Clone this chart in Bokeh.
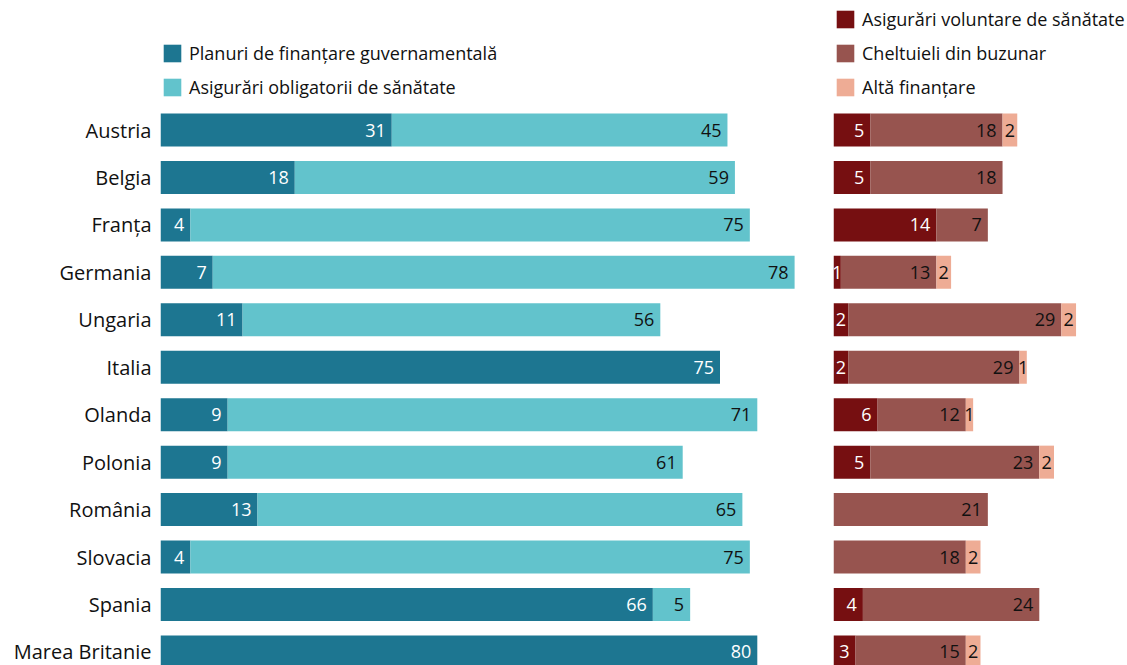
from bokeh.plotting import figure
from bokeh.layouts import row
from bokeh.models import ColumnDataSource, Range1d, FixedTicker, Legend, LegendItem
from bokeh.core.properties import value
from bokeh.embed import file_html
from bokeh.resources import INLINE

countries = ["Austria", "Belgia", "Franța", "Germania", "Ungaria", "Italia",
             "Olanda", "Polonia", "România", "Slovacia", "Spania", "Marea Britanie"]
gov = [31, 18, 4, 7, 11, 75, 9, 9, 13, 4, 66, 80]
compulsory = [45, 59, 75, 78, 56, 0, 71, 61, 65, 75, 5, 0]
voluntary = [5, 5, 14, 1, 2, 2, 6, 5, 0, 0, 4, 3]
# bar lengths as drawn in the picture (Italia's bar is shorter than its printed label)
out_of_pocket = [18, 18, 7, 13, 29, 23.3, 12, 23, 21, 18, 24, 15]
out_of_pocket_labels = ["18", "18", "7", "13", "29", "29", "12", "23", "21", "18", "24", "15"]
other = [2, 0, 0, 2, 2, 1, 1, 2, 0, 2, 0, 2]

left_names = ["Planuri de finanțare guvernamentală", "Asigurări obligatorii de sănătate"]
right_names = ["Asigurări voluntare de sănătate", "Cheltuieli din buzunar", "Altă finanțare"]
left_colors = ["#1d7691", "#62c3cc"]
right_colors = ["#760f11", "#97544f", "#eeac95"]
left_text = ["white", "#111111"]
right_text = ["white", "#111111", "#111111"]

FONT = "Open Sans"
H = 665
ROW_PITCH = 47.45
Y_TOP = -129.5 / ROW_PITCH
Y_BOT = (H - 129.5) / ROW_PITCH
BAR_H = 33 / ROW_PITCH
ys = list(range(len(countries)))


def fmt(v):
    return str(int(v)) if float(v).is_integer() else str(v)


def make_panel(series, labels, colors, tcolors, names, width, border_left, xmax, with_axis):
    p = figure(width=width, height=H, output_backend="svg", toolbar_location=None,
               x_range=Range1d(0, xmax), y_range=Range1d(Y_BOT, Y_TOP),
               min_border_left=border_left, min_border_right=0,
               min_border_top=0, min_border_bottom=0)
    p.outline_line_color = None
    p.grid.visible = False
    p.xaxis.visible = False
    if with_axis:
        ax = p.yaxis[0]
        ax.ticker = FixedTicker(ticks=ys)
        ax.major_label_overrides = {i: c for i, c in enumerate(countries)}
        ax.axis_line_color = None
        ax.major_tick_line_color = None
        ax.minor_tick_line_color = None
        ax.major_label_standoff = 3
        ax.major_label_text_font = FONT
        ax.major_label_text_font_size = "20px"
        ax.major_label_text_color = "#111111"
    else:
        p.yaxis.visible = False

    cum = [0] * len(countries)
    items = []
    for vals, labs, col, tcol, name in zip(series, labels, colors, tcolors, names):
        left = list(cum)
        right = [a + b for a, b in zip(cum, vals)]
        src = ColumnDataSource(dict(y=ys, left=left, right=right))
        r = p.hbar(y="y", left="left", right="right", height=BAR_H, source=src,
                   fill_color=col, line_color=None)
        items.append(LegendItem(label=name, renderers=[r]))
        ra = dict(x=[], y=[], t=[])
        ce = dict(x=[], y=[], t=[])
        for i, v in enumerate(vals):
            if v <= 0:
                continue
            t = labs[i] if labs is not None else fmt(v)
            if v <= 2:
                ce["x"].append(left[i] + v / 2)
                ce["y"].append(i)
                ce["t"].append(t)
            else:
                ra["x"].append(right[i])
                ra["y"].append(i)
                ra["t"].append(t)
        p.text(x="x", y="y", text="t", source=ColumnDataSource(ra), text_align="right",
               text_baseline="middle", x_offset=-6, text_color=tcol,
               text_font=value(FONT), text_font_size="18px")
        p.text(x="x", y="y", text="t", source=ColumnDataSource(ce), text_align="center",
               text_baseline="middle", text_color=tcol,
               text_font=value(FONT), text_font_size="18px")
        cum = right

    leg = Legend(items=items, location=(1, 0), orientation="vertical")
    leg.glyph_width = 22
    leg.glyph_height = 22
    leg.spacing = 10
    leg.padding = 0
    leg.margin = 0
    leg.label_standoff = 6
    leg.label_text_font = FONT
    leg.label_text_font_size = "18px"
    leg.label_text_color = "#111111"
    leg.label_height = 22
    leg.border_line_color = None
    leg.background_fill_alpha = 0
    p.add_layout(leg)
    return p, leg


W1 = 820
W2 = 1127 - W1
pl, legl = make_panel([gov, compulsory], [None, None], left_colors, left_text, left_names,
                      W1, 160, (W1 - 160) / 7.46, True)
pr, legr = make_panel([voluntary, out_of_pocket, other], [None, out_of_pocket_labels, None],
                      right_colors, right_text, right_names,
                      W2, 13, (W2 - 13) / 7.35, False)
legl.location = (1, H - 45 - 54)
legr.location = (1, H - 13 - 86)

layout = row(pl, pr)
open("out.html", "w").write(file_html(layout, INLINE))
